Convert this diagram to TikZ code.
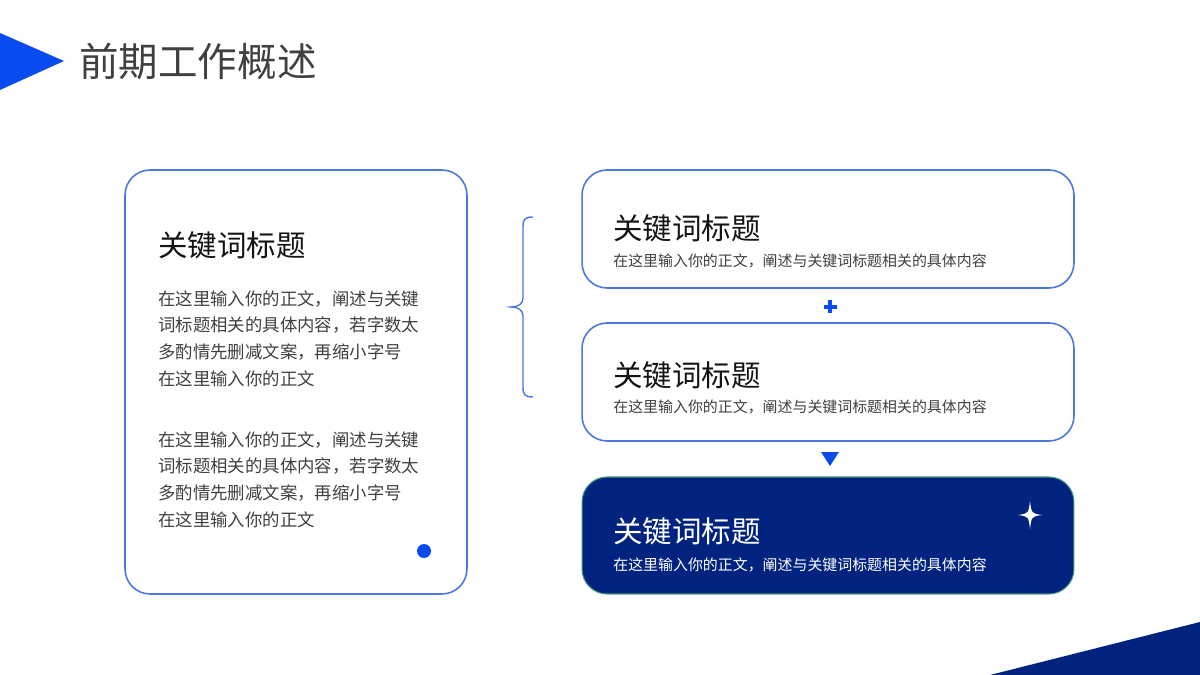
\documentclass[tikz,border=0pt]{standalone}
\usepackage{fontspec}
\setmainfont{Noto Sans CJK SC}
\definecolor{vivid}{RGB}{10,75,240}
\definecolor{edgeblue}{RGB}{74,119,224}
\definecolor{navy}{RGB}{0,35,128}
\definecolor{navyedge}{RGB}{70,150,120}
\definecolor{bodygray}{RGB}{64,64,64}
\definecolor{headblack}{RGB}{20,20,20}
\tikzset{card/.style = {draw=edgeblue, fill=white, line width=0.9pt, rectangle, rounded corners=0.5cm, minimum width=9.84cm, minimum height=2.36cm},
         lcard/.style={draw=edgeblue, fill=white, line width=0.9pt, rectangle, rounded corners=0.5cm, minimum width=6.84cm, minimum height=8.48cm},
         dcard/.style={draw=navyedge, fill=navy, line width=0.6pt, rectangle, rounded corners=0.5cm, minimum width=9.84cm, minimum height=2.34cm},
         head/.style= {anchor=west, inner sep=0pt, text=headblack, font=\fontsize{16.8pt}{20pt}\selectfont},
         sub/.style=  {anchor=west, inner sep=0pt, text=bodygray, font=\fontsize{8.5pt}{10pt}\selectfont},
         para/.style= {anchor=north west, inner sep=0pt, align=left, text=bodygray, font=\fontsize{9.9pt}{15.3pt}\selectfont},
         dot/.style=  {circle, fill=vivid, inner sep=0pt, minimum size=0.28cm}}

\begin{document}
\begin{tikzpicture}[x=0.02cm,y=-0.02cm]
        \useasboundingbox (0,0) rectangle (1200,675);
        % corner marks
        \fill[vivid](0,33)--(64,61)--(0,90)--cycle;
        \fill[navy](990,675)--(1200,622)--(1200,675)--cycle;
        \node[anchor=west,inner sep=0pt,text=bodygray,font=\fontsize{22.5pt}{26pt}\selectfont](title)at(79,61){前期工作概述};
        % left card
        \node[lcard](lc)at(296,382){};
        \node[head](lchead)at(158,245){关键词标题};
        \node[para](lcpa)at(158,290){在这里输入你的正文，阐述与关键\\词标题相关的具体内容，若字数太\\多酌情先删减文案，再缩小字号\\在这里输入你的正文};
        \node[para](lcpb)at(158,431){在这里输入你的正文，阐述与关键\\词标题相关的具体内容，若字数太\\多酌情先删减文案，再缩小字号\\在这里输入你的正文};
        \node[dot](ldot)at(424,551){};
        % brace
        \draw[edgeblue,line width=0.8pt](533,217)..controls(525,217)and(523,219)..(523,227)--(523,298)
            ..controls(523,304)and(518,307)..(511,307)..controls(518,307)and(523,310)..(523,316)
            --(523,387)..controls(523,395)and(525,397)..(533,397);
        % right cards
        \node[card](ca)at(828,229){};
        \node[head](cahead)at(613,228){关键词标题};
        \node[sub](casub)at(613,261){在这里输入你的正文，阐述与关键词标题相关的具体内容};
        \node[card](cb)at(828,382){};
        \node[head](cbhead)at(613,375){关键词标题};
        \node[sub](cbsub)at(613,407){在这里输入你的正文，阐述与关键词标题相关的具体内容};
        \node[dcard](cc)at(828,535.5){};
        \node[head,text=white](cchead)at(613,531){关键词标题};
        \node[sub,text=white](ccsub)at(613,565){在这里输入你的正文，阐述与关键词标题相关的具体内容};
        % marks between cards
        \fill[vivid](823.5,305.2)rectangle(836.5,308.8);
        \fill[vivid](828.2,300.5)rectangle(831.8,313.5);
        \fill[vivid](821,452)--(839,452)--(830,466)--cycle;
        % sparkle
        \fill[white](1030,501)..controls(1031.5,513.5)..(1042,515)..controls(1031.5,516.5)..(1030,529)
            ..controls(1028.5,516.5)..(1018,515)..controls(1028.5,513.5)..(1030,501)--cycle;
    \end{tikzpicture}
\end{document}
